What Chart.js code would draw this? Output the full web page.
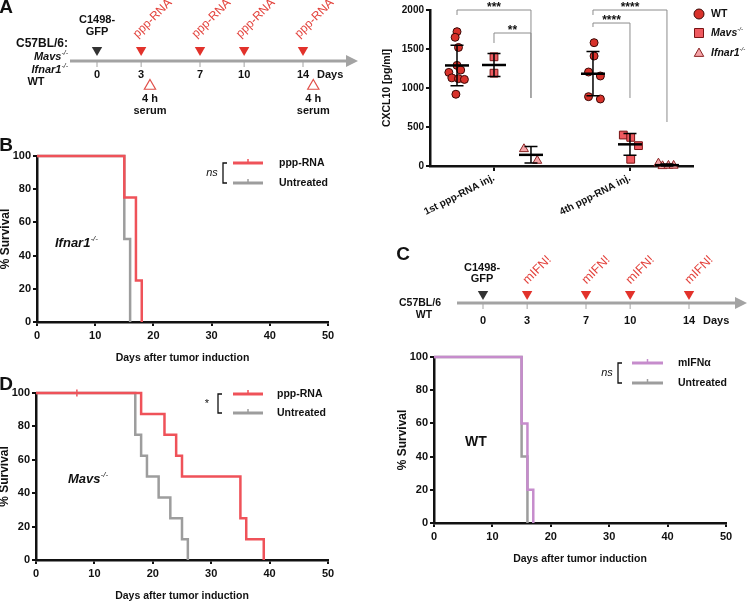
<!DOCTYPE html>
<html>
<head>
<meta charset="utf-8">
<script src="https://cdn.jsdelivr.net/npm/chart.js@4.4.1/dist/chart.umd.min.js"></script>
<style>
html, body { margin: 0; padding: 0; background: #fff; }
#wrap { position: relative; width: 748px; height: 602px; overflow: hidden; }
#wrap canvas { position: absolute; left: 0; top: 0; }
</style>
</head>
<body>
<div id="wrap">
  <canvas id="tlA" width="748" height="602"></canvas>
  <canvas id="cxcl" width="748" height="602"></canvas>
  <canvas id="survB" width="748" height="602"></canvas>
  <canvas id="tlC" width="748" height="602"></canvas>
  <canvas id="survC" width="748" height="602"></canvas>
  <canvas id="survD" width="748" height="602"></canvas>
</div>
<script>
// ---- timelines (days) ----
const timelineTicks = [0, 3, 7, 10, 14];
const tumorDay = [0];
const pppRnaDays = [3, 7, 10, 14];
const serumDays = [3.6, 14.7];
const mIfnDays = [3, 7, 10, 14];

// ---- A: CXCL10 in serum (pg/ml) ----
const cxclGroups = ["1st ppp-RNA inj.", "4th ppp-RNA inj."];
const cxclTicks = [0, 500, 1000, 1500, 2000];
const genotypes = ["WT", "Mavs", "Ifnar1"];
const wt1st = [1722, 1650, 1520, 1290, 1200, 1230, 1130, 1120, 1110, 920];
const mavs1st = [1400, 1190];
const ifnar1st = [218, 68];
const wt4th = [1581, 1410, 1205, 1154, 889, 859];
const mavs4th = [397, 367, 261, 86];
const ifnar4th = [34, 0, 5, 5];
// horizontal scatter of dots inside a column
const wt1stJitter = [0, -0.05, 0.04, 0, -0.22, 0.1, -0.14, 0.04, 0.2, -0.03];
const mavs1stJitter = [0, 0];
const ifnar1stJitter = [-0.19, 0.17];
const wt4thJitter = [0.03, 0.03, -0.12, 0.2, -0.12, 0.2];
const mavs4thJitter = [-0.18, 0.02, 0.23, 0.02];
const ifnar4thJitter = [-0.23, -0.12, 0.04, 0.18];
// significance brackets
const sigLabels = ["***", "**", "****", "****"];
const sigGroup = [0, 0, 1, 1];
const sigFrom = [0, 1, 0, 0];
const sigTo = [2, 2, 2, 1];
const sigLevel = [2000, 1705, 2000, 1833];
const sigFromEnd = [1936, 1577, 1936, 1782];
const sigToEnd = [872, 872, 564, 872];

// ---- survival (days, % survival) ----
const survXTicks = [0, 10, 20, 30, 40, 50];
const survYTicks = [0, 20, 40, 60, 80, 100];
const bPppDays = [0, 15, 17, 18];
const bPpp = [100, 75, 25, 0];
const bUntDays = [0, 15, 16];
const bUnt = [100, 50, 0];
const cIfnDays = [0, 15, 16, 17];
const cIfn = [100, 60, 20, 0];
const cUntDays = [0, 15, 16];
const cUnt = [100, 40, 0];
const dPppDays = [0, 18, 22, 24, 25, 35, 36, 39];
const dPpp = [100, 87.5, 75, 62.5, 50, 25, 12.5, 0];
const dUntDays = [0, 17, 18, 19, 21, 23, 25, 26];
const dUnt = [100, 75, 62.5, 50, 37.5, 25, 12.5, 0];
const dCensorDays = [7];
const dCensor = [100];

// ---- look ----
const FONT = '"Liberation Sans", Arial, Helvetica, sans-serif';
const f = (style, size) => (style ? style + " " : "") + size + "px " + FONT;
const INK = "#111";
const MARK_RED = "#e2322b";
const TXT_RED = "#e3423c";
const KM_RED = "#ef5259";
const KM_GRAY = "#9d9d9d";
const KM_PURPLE = "#c68ccc";

function drawRich(ctx, parts, x, y, o) {
  o = o || {};
  ctx.save();
  ctx.translate(x, y);
  if (o.rot) ctx.rotate(o.rot * Math.PI / 180);
  ctx.textBaseline = "middle";
  ctx.textAlign = "left";
  ctx.fillStyle = o.color || INK;
  let w = 0;
  parts.forEach(p => { ctx.font = p.font; w += ctx.measureText(p.t).width; });
  let cx = o.align === "center" ? -w / 2 : o.align === "right" ? -w : 0;
  parts.forEach(p => {
    ctx.font = p.font;
    ctx.fillText(p.t, cx, p.dy || 0);
    cx += ctx.measureText(p.t).width;
  });
  ctx.restore();
}
const txt = (t, font) => [{ t: t, font: font }];
const knockout = (name, size) => [
  { t: name, font: f("italic bold", size) },
  { t: "-/-", font: f("italic", Math.round(size * 0.6)), dy: -size * 0.35 }
];

const axisGrid = { drawOnChartArea: false, drawTicks: true, tickLength: 4, color: INK, lineWidth: 2 };
const axisBorder = { color: INK, width: 2.5 };
const noPlugins = { legend: { display: false }, tooltip: { enabled: false } };

// ---------- timelines ----------
function timelinePlugin(cfg) {
  return {
    id: "timeline",
    beforeDatasetsDraw(chart) {
      const { ctx, chartArea: a, scales: { x, y } } = chart;
      const ya = y.getPixelForValue(0);
      ctx.save();
      ctx.strokeStyle = "#a3a3a3";
      ctx.fillStyle = "#a3a3a3";
      ctx.lineWidth = 3;
      ctx.beginPath(); ctx.moveTo(a.left, ya); ctx.lineTo(a.right, ya); ctx.stroke();
      ctx.beginPath();
      ctx.moveTo(a.right + 8, ya); ctx.lineTo(a.right - 4, ya - 6); ctx.lineTo(a.right - 4, ya + 6);
      ctx.closePath(); ctx.fill();
      ctx.lineWidth = 1;
      timelineTicks.forEach(d => {
        const px = x.getPixelForValue(d);
        ctx.beginPath(); ctx.moveTo(px, ya + 1); ctx.lineTo(px, ya + 6); ctx.stroke();
        drawRich(ctx, txt(String(d), f("bold", 11)), px, ya + cfg.dayDy, { align: "center" });
      });
      const last = timelineTicks[timelineTicks.length - 1];
      drawRich(ctx, txt("Days", f("bold", 11)), x.getPixelForValue(last) + 14, ya + cfg.dayDy);
      cfg.treatDays.forEach(d => {
        drawRich(ctx, txt(cfg.treatLabel, f("", cfg.treatSize)), x.getPixelForValue(d) + cfg.rotDx, ya + cfg.rotDy,
          { rot: -45, color: TXT_RED });
      });
      (cfg.under || []).forEach(d => {
        const px = x.getPixelForValue(d);
        drawRich(ctx, txt("4 h", f("bold", 11)), px, ya + 38, { align: "center" });
        drawRich(ctx, txt("serum", f("bold", 11)), px, ya + 50, { align: "center" });
      });
      cfg.texts.forEach(t => drawRich(ctx, t.p, t.x, t.y, t));
      ctx.restore();
    }
  };
}

function downMarkers(days, yv, color) {
  return {
    data: days.map(d => ({ x: d, y: yv })),
    pointStyle: "triangle", pointRotation: 180, pointRadius: 6,
    pointBackgroundColor: color, pointBorderColor: color, pointBorderWidth: 0, clip: false
  };
}

new Chart(document.getElementById("tlA"), {
  type: "scatter",
  data: {
    datasets: [
      downMarkers(tumorDay, 1.1, "#333"),
      downMarkers(pppRnaDays, 1.1, MARK_RED),
      {
        data: serumDays.map(d => ({ x: d, y: -2.5 })),
        pointStyle: "triangle", pointRadius: 6.5,
        pointBackgroundColor: "#fff", pointBorderColor: "#e0504a", pointBorderWidth: 1.2, clip: false
      }
    ]
  },
  options: {
    responsive: false, animation: false, events: [],
    layout: { padding: { left: 70, right: 748 - 350, top: 41, bottom: 602 - 101 } },
    scales: {
      x: { type: "linear", display: false, min: -1.835, max: 17.194 },
      y: { display: false, min: -4, max: 2 }
    },
    plugins: noPlugins
  },
  plugins: [timelinePlugin({
    dayDy: 14, treatDays: pppRnaDays, treatLabel: "ppp-RNA", treatSize: 12, rotDx: -6, rotDy: -25,
    under: serumDays,
    texts: [
      { p: txt("A", f("bold", 19)), x: 6, y: 8, align: "center" },
      { p: txt("C1498-", f("bold", 11)), x: 97, y: 20, align: "center" },
      { p: txt("GFP", f("bold", 11)), x: 97, y: 32, align: "center" },
      { p: txt("C57BL/6:", f("bold", 12)), x: 68, y: 44, align: "right" },
      { p: knockout("Mavs", 11), x: 68, y: 57, align: "right" },
      { p: knockout("Ifnar1", 11), x: 68, y: 70, align: "right" },
      { p: txt("WT", f("bold", 11)), x: 36, y: 82, align: "center" }
    ]
  })]
});

new Chart(document.getElementById("tlC"), {
  type: "scatter",
  data: {
    datasets: [
      downMarkers(tumorDay, 0.9, "#333"),
      downMarkers(mIfnDays, 0.9, MARK_RED)
    ]
  },
  options: {
    responsive: false, animation: false, events: [],
    layout: { padding: { left: 457, right: 748 - 739, top: 283, bottom: 602 - 323 } },
    scales: {
      x: { type: "linear", display: false, min: -1.767, max: 17.398 },
      y: { display: false, min: -2, max: 2 }
    },
    plugins: noPlugins
  },
  plugins: [timelinePlugin({
    dayDy: 18, treatDays: mIfnDays, treatLabel: "mIFN!", treatSize: 12.5, rotDx: -2, rotDy: -21,
    texts: [
      { p: txt("C", f("bold", 19)), x: 403, y: 255, align: "center" },
      { p: txt("C1498-", f("bold", 11)), x: 482, y: 268, align: "center" },
      { p: txt("GFP", f("bold", 11)), x: 482, y: 279, align: "center" },
      { p: txt("C57BL/6", f("bold", 10.5)), x: 420, y: 303, align: "center" },
      { p: txt("WT", f("bold", 10.5)), x: 424, y: 315, align: "center" }
    ]
  })]
});

// ---------- A: CXCL10 scatter ----------
const groupTicks = [0, 3.676];
const colOffsets = [-1, 0, 1];
const injSets = [[wt1st, mavs1st, ifnar1st], [wt4th, mavs4th, ifnar4th]];
const jitSets = [[wt1stJitter, mavs1stJitter, ifnar1stJitter], [wt4thJitter, mavs4thJitter, ifnar4thJitter]];
const markerStyle = ["circle", "rect", "triangle"];
const markerSize = [4, 5.5, 5.2];
const markerFill = ["#d8322b", "#ef5a60", "#f5a4a8"];
const markerEdge = ["#3a0806", "#7a1414", "#8a2424"];

const mean = a => a.reduce((s, v) => s + v, 0) / a.length;
const sd = a => { const m = mean(a); return Math.sqrt(a.reduce((s, v) => s + (v - m) * (v - m), 0) / (a.length - 1)); };

function legendMarker(ctx, i, x, y, r) {
  ctx.save();
  ctx.fillStyle = markerFill[i];
  ctx.strokeStyle = markerEdge[i];
  ctx.lineWidth = 1;
  ctx.beginPath();
  if (i === 0) ctx.arc(x, y, r, 0, Math.PI * 2);
  else if (i === 1) ctx.rect(x - r, y - r, 2 * r, 2 * r);
  else { ctx.moveTo(x, y - r * 1.1); ctx.lineTo(x + r * 1.05, y + r * 0.75); ctx.lineTo(x - r * 1.05, y + r * 0.75); ctx.closePath(); }
  ctx.fill(); ctx.stroke();
  ctx.restore();
}

const cxclDecor = {
  id: "cxclDecor",
  afterDatasetsDraw(chart) {
    const { ctx, scales: { x, y } } = chart;
    ctx.save();
    // mean and SD
    injSets.forEach((set, si) => set.forEach((vals, gi) => {
      const px = x.getPixelForValue(groupTicks[si] + colOffsets[gi]);
      const m = mean(vals), s = sd(vals);
      const yt = y.getPixelForValue(m + s), yb = y.getPixelForValue(Math.max(0, m - s)), ym = y.getPixelForValue(m);
      ctx.strokeStyle = "#000";
      ctx.lineWidth = 1.5;
      ctx.beginPath();
      ctx.moveTo(px, yt); ctx.lineTo(px, yb);
      ctx.moveTo(px - 6.5, yt); ctx.lineTo(px + 6.5, yt);
      ctx.moveTo(px - 6.5, yb); ctx.lineTo(px + 6.5, yb);
      ctx.stroke();
      ctx.lineWidth = 2.5;
      ctx.beginPath(); ctx.moveTo(px - 12, ym); ctx.lineTo(px + 12, ym); ctx.stroke();
    }));
    // brackets
    sigLabels.forEach((lab, i) => {
      const xa = x.getPixelForValue(groupTicks[sigGroup[i]] + colOffsets[sigFrom[i]]);
      const xb = x.getPixelForValue(groupTicks[sigGroup[i]] + colOffsets[sigTo[i]]);
      const yl = y.getPixelForValue(sigLevel[i]);
      ctx.strokeStyle = "#8c8c8c";
      ctx.lineWidth = 1;
      ctx.beginPath();
      ctx.moveTo(xa, y.getPixelForValue(sigFromEnd[i])); ctx.lineTo(xa, yl);
      ctx.lineTo(xb, yl); ctx.lineTo(xb, y.getPixelForValue(sigToEnd[i]));
      ctx.stroke();
      drawRich(ctx, txt(lab, f("bold", 12)), (xa + xb) / 2, yl - 2, { align: "center" });
    });
    // legend
    const ly = [14, 33, 53];
    genotypes.forEach((g, i) => {
      legendMarker(ctx, i, 699, ly[i], i === 0 ? 5 : 4.5);
      drawRich(ctx, i === 0 ? txt(g, f("bold", 10.5)) : knockout(g, 10.5), 711, ly[i]);
    });
    drawRich(ctx, txt("CXCL10 [pg/ml]", f("bold", 10.5)), 387, 88, { align: "center", rot: -90 });
    ctx.restore();
  }
};

new Chart(document.getElementById("cxcl"), {
  type: "scatter",
  data: {
    datasets: genotypes.map((g, gi) => ({
      label: g,
      data: [0, 1].flatMap(si => injSets[si][gi].map((v, k) => ({
        x: groupTicks[si] + colOffsets[gi] + jitSets[si][gi][k], y: v
      }))),
      pointStyle: markerStyle[gi],
      pointRadius: markerSize[gi],
      pointBackgroundColor: markerFill[gi],
      pointBorderColor: markerEdge[gi],
      pointBorderWidth: 1,
      clip: false
    }))
  },
  options: {
    responsive: false, animation: false, events: [],
    layout: { padding: { left: 0, top: 10, right: 748 - 693, bottom: 602 - 166 - 70 } },
    scales: {
      x: {
        type: "linear", min: -1.73, max: 5.38,
        afterFit: s => { s.height = 70; },
        afterBuildTicks: s => { s.ticks = groupTicks.map(v => ({ value: v })); },
        ticks: {
          callback: (v, i) => cxclGroups[i], autoSkip: false,
          minRotation: 27, maxRotation: 27, padding: 1,
          color: INK, font: { family: FONT, size: 10, weight: "bold" }
        },
        grid: Object.assign({}, axisGrid, { tickLength: 5 }),
        border: axisBorder
      },
      y: {
        min: 0, max: 2000,
        afterFit: s => { s.width = 430; },
        afterBuildTicks: s => { s.ticks = cxclTicks.map(v => ({ value: v })); },
        ticks: { callback: v => String(v), padding: 2, color: INK, font: { family: FONT, size: 10, weight: "bold" } },
        grid: axisGrid,
        border: axisBorder
      }
    },
    plugins: noPlugins
  },
  plugins: [cxclDecor]
});

// ---------- survival curves ----------
const pts = (xs, ys) => xs.map((d, i) => ({ x: d, y: ys[i] }));
const kmLine = (label, xs, ys, color) => ({
  label: label, data: pts(xs, ys), borderColor: color, borderWidth: 2.5,
  stepped: true, pointRadius: 0, fill: false, clip: false
});

function kmPlugin(o) {
  return {
    id: "km",
    afterDraw(chart) {
      const { ctx, chartArea: a } = chart;
      drawRich(ctx, txt("% Survival", f("bold", 12)), a.left - 31, (a.top + a.bottom) / 2, { align: "center", rot: -90 });
      drawRich(ctx, txt("Days after tumor induction", f("bold", 10.5)), (a.left + a.right) / 2, a.bottom + 36, { align: "center" });
      const L = o.legend;
      ctx.save();
      ctx.strokeStyle = INK;
      ctx.lineWidth = 1.3;
      ctx.beginPath();
      ctx.moveTo(L.bx + 4, L.y1); ctx.lineTo(L.bx, L.y1); ctx.lineTo(L.bx, L.y2); ctx.lineTo(L.bx + 4, L.y2);
      ctx.stroke();
      drawRich(ctx, txt(L.sig, f(L.sig === "ns" ? "italic" : "", 11)), L.bx - 11, (L.y1 + L.y2) / 2, { align: "center" });
      [L.y1, L.y2].forEach((yy, i) => {
        const ds = chart.data.datasets[i];
        const mid = (L.x0 + L.x1) / 2;
        ctx.strokeStyle = ds.borderColor;
        ctx.lineWidth = 3;
        ctx.beginPath(); ctx.moveTo(L.x0, yy); ctx.lineTo(L.x1, yy); ctx.stroke();
        ctx.lineWidth = 1.5;
        ctx.beginPath(); ctx.moveTo(mid, yy); ctx.lineTo(mid, yy - 4); ctx.stroke();
        drawRich(ctx, txt(ds.label, f("bold", 10.5)), L.tx, yy);
      });
      ctx.restore();
      o.texts.forEach(t => drawRich(ctx, t.p, t.x, t.y, t));
    }
  };
}

function survival(id, area, datasets, deco) {
  return new Chart(document.getElementById(id), {
    type: "line",
    data: { datasets: datasets },
    options: {
      responsive: false, animation: false, events: [],
      layout: { padding: { left: 0, top: area.top, right: 748 - area.right, bottom: 602 - area.bottom - 20 } },
      scales: {
        x: {
          type: "linear", min: 0, max: 50,
          afterFit: s => { s.height = 20; },
          afterBuildTicks: s => { s.ticks = survXTicks.map(v => ({ value: v })); },
          ticks: { maxRotation: 0, padding: 3, color: INK, font: { family: FONT, size: 11, weight: "bold" } },
          grid: axisGrid, border: axisBorder
        },
        y: {
          min: 0, max: 100,
          afterFit: s => { s.width = area.left; },
          afterBuildTicks: s => { s.ticks = survYTicks.map(v => ({ value: v })); },
          ticks: { padding: 2, color: INK, font: { family: FONT, size: 11, weight: "bold" } },
          grid: axisGrid, border: axisBorder
        }
      },
      plugins: noPlugins
    },
    plugins: [kmPlugin(deco)]
  });
}

survival("survB", { left: 37, top: 156, right: 328, bottom: 322 }, [
  kmLine("ppp-RNA", bPppDays, bPpp, KM_RED),
  kmLine("Untreated", bUntDays, bUnt, KM_GRAY)
], {
  legend: { sig: "ns", bx: 223, y1: 163, y2: 183, x0: 233, x1: 263, tx: 279 },
  texts: [
    { p: txt("B", f("bold", 19)), x: 6, y: 146, align: "center" },
    { p: knockout("Ifnar1", 13), x: 55, y: 243 }
  ]
});

survival("survC", { left: 434, top: 357, right: 726, bottom: 523 }, [
  kmLine("mIFNα", cIfnDays, cIfn, KM_PURPLE),
  kmLine("Untreated", cUntDays, cUnt, KM_GRAY)
], {
  legend: { sig: "ns", bx: 618, y1: 363, y2: 383, x0: 632, x1: 663, tx: 678 },
  texts: [
    { p: txt("WT", f("bold", 14)), x: 465, y: 442 }
  ]
});

const dSets = [
  kmLine("ppp-RNA", dPppDays, dPpp, KM_RED),
  kmLine("Untreated", dUntDays, dUnt, KM_GRAY)
];
dSets.push({
  label: "censored", data: pts(dCensorDays, dCensor), showLine: false,
  pointStyle: "line", pointRotation: 90, pointRadius: 3.5,
  pointBorderColor: KM_RED, pointBorderWidth: 1.5, clip: false
});
survival("survD", { left: 36, top: 393, right: 328, bottom: 560 }, dSets, {
  legend: { sig: "*", bx: 218, y1: 394, y2: 413, x0: 233, x1: 263, tx: 277 },
  texts: [
    { p: txt("D", f("bold", 19)), x: 6, y: 385, align: "center" },
    { p: knockout("Mavs", 13), x: 68, y: 479 }
  ]
});
</script>
</body>
</html>
